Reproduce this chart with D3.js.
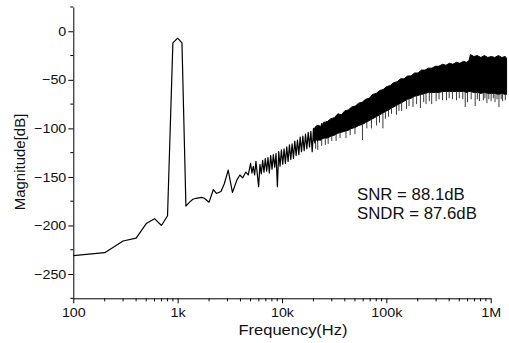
<!DOCTYPE html>
<html><head><meta charset="utf-8">
<script src="https://cdn.jsdelivr.net/npm/d3@7"></script>
<style>body{margin:0;background:#fff}svg{display:block}text{font-family:"Liberation Sans",Arial,sans-serif;fill:#111}</style>
</head><body>
<svg id="c" width="509" height="343"></svg>
<script>
// ---- data ----
const lineFreq = [100,200,300,400,500,600,700,800,900,1000,1100,1200,1300,1400,1500,1700,1800,2000,2200,2350,2600,2800,3050,3350,3700,3950,4200,4500,4750,
  5000,5150,5305,5464,5628,5796,5970,6149,6334,6524,6720,6921,7129,7343,7563,7790,8024,8264,8512,8768,9031,9301,9581,9868,10164,10469,10783,11106,11440,11783,12136,12500,12875,13262,13660,14069,14491,14926,15374,15835,16310,16800,17304,17823,18357,18908,19475,20060,20661,21281,21920,22577,23255,23952,24671,25411];
const lineMag  = [-231,-228,-216,-213,-198,-193,-200,-190,-12,-7,-12,-180,-176,-173,-172,-171,-172,-176,-163,-167,-165,-157,-143,-166,-153,-148,-151,-145,-148,
  -136,-146,-139,-148,-134,-147,-160,-137,-147,-133,-145,-131,-144,-130,-146,-128,-142,-127,-140,-126,-160,-124,-139,-122,-137,-121,-136,-119,-134,-117,-132,-116,-131,-113,-128,-112,-127,-109,-124,-108,-123,-106,-121,-104,-119,-103,-124,-100,-115,-98,-113,-97,-112,-95,-110,-93];

const bandFreq   = [20000,21600,23300,25200,27200,29400,31700,34300,37000,40000,43200,46600,50400,54400,58700,63400,68500,74000,79900,86300,93200,100700,108700,117400,126800,137000,147900,159700,172500,186300,201200,217300,234700,253500,273800,295700,319300,344900,372400,402200,434400,469200,506700,547200,591000,620000,640000,690000,745000,805000,869000,939000,1014000,1095000,1183000,1278000,1380000,1420000];
const bandTop    = [-101,-97,-98,-94,-93,-90,-89,-85,-86,-82,-81,-78,-77,-74,-73,-70,-69,-65,-64,-61,-60,-57,-56,-53,-52,-49,-49,-46,-46,-43,-43,-40,-40,-38,-38,-36,-36,-34,-35,-33,-34,-32,-33,-31,-32,-30,-24,-26,-25,-27,-25,-27,-26,-27,-25,-27,-26,-28];
const bandBottom = [-113,-112,-112,-110,-110,-108,-107,-105,-104,-103,-102,-100,-99,-97,-96,-94,-92,-90,-88,-86,-84,-82,-80,-78,-76,-74,-72,-70,-69,-67,-66,-65,-64,-63,-63,-63,-63,-62,-62,-62,-62,-62,-62,-62,-63,-62,-62,-63,-63,-64,-63,-64,-64,-64,-65,-64,-65,-65];

const spikeFreq = [21000,22000,24000,26000,27700,30000,33000,36000,41000,45000,50000,59000,65000,72000,80600,86000,92700,98000,105000,112000,125000,132000,140000,156000,165000,180000,195000,212000,228000,240000,258000,272000,300000,320000,345000,377000,400000,430000,470000,500000,540000,570000,600000,650000,710000,745000,780000,850000,880000,920000,960000,1010000,1060000,1100000,1150000,1200000,1260000,1300000,1380000];
const spikeMag  = [-121,-122,-118,-117,-116,-113,-113,-110,-110,-107,-106,-112,-100,-100,-97,-94,-100,-90,-88,-85,-86,-82,-82,-80,-77,-78,-75,-79,-73,-75,-72,-75,-72,-70,-71,-71,-69,-70,-71,-69,-70,-78,-73,-70,-77,-70,-72,-71,-69,-74,-70,-72,-69,-73,-70,-78,-70,-72,-71];

const yTickValues = [-250,-200,-150,-100,-50,0];
const yMinorValues = [-275,-225,-175,-125,-75,-25,25];
const xTickValues = [100,1000,10000,100000,1000000];
const xTickLabels = ["100","1k","10k","100k","1M"];
const xTitle = "Frequency(Hz)";
const yTitle = "Magnitude[dB]";
const notes = ["SNR = 88.1dB","SNDR = 87.6dB"];

// ---- drawing ----
const svg = d3.select("#c");
const x = d3.scaleLog().domain([100,1e6]).range([73.3,490.7]);
const y = d3.scaleLinear().domain([-275,25]).range([298.3,7]);
const bottomAt = d3.scaleLog().domain(bandFreq).range(bandBottom);

// band
const area = d3.area().x((d,i)=>x(bandFreq[i])).y0((d,i)=>y(bandBottom[i])).y1((d,i)=>y(bandTop[i]));
svg.append("path").datum(bandFreq).attr("d",area).attr("fill","#000").attr("stroke","#000").attr("stroke-width",1);

// spikes
svg.append("g").selectAll("line").data(spikeFreq).join("line")
  .attr("x1",d=>x(d)).attr("x2",d=>x(d))
  .attr("y1",(d,i)=>y(spikeMag[i])).attr("y2",d=>y(bottomAt(d)))
  .attr("stroke","#3a3a3a").attr("stroke-width",1);

// line
const line = d3.line().x((d,i)=>x(lineFreq[i])).y((d,i)=>y(lineMag[i]));
svg.append("path").datum(lineFreq).attr("d",line).attr("fill","none").attr("stroke","#000").attr("stroke-width",1.2).attr("stroke-linejoin","round");

// axes
const gx = svg.append("g").attr("transform","translate(0,298.3)");
gx.call(d3.axisBottom(x).tickValues(xTickValues).tickFormat((d,i)=>xTickLabels[i]).tickSize(5).tickSizeOuter(0));
const minorX = [];
[100,1000,10000,100000].forEach(dec=>{for(let k=2;k<=9;k++) minorX.push(dec*k);});
gx.append("g").selectAll("line").data(minorX).join("line")
  .attr("x1",d=>x(d)).attr("x2",d=>x(d)).attr("y1",0).attr("y2",3).attr("stroke","#000");
gx.selectAll(".tick text").attr("font-size","13px").attr("dy","0.85em")
  .attr("transform","scale(1.1,1)");

const gy = svg.append("g").attr("transform","translate(73.3,0)");
gy.call(d3.axisLeft(y).tickValues(yTickValues).tickSize(5).tickSizeOuter(0));
gy.append("g").selectAll("line").data(yMinorValues).join("line")
  .attr("x1",0).attr("x2",-3).attr("y1",d=>y(d)).attr("y2",d=>y(d)).attr("stroke","#000");
gy.selectAll(".tick text").attr("font-size","13px").attr("x",-7/1.1).attr("transform","scale(1.1,1)");

svg.selectAll(".domain").attr("stroke","#000");
svg.selectAll(".tick line").attr("stroke","#000");
svg.selectAll(".tick text").attr("fill","#111").attr("font-family","Liberation Sans, Arial, sans-serif");

// titles
svg.append("text").attr("transform","translate(293,335) scale(1.1,1)").attr("text-anchor","middle")
  .attr("font-size","15px").text(xTitle);
svg.append("text").attr("transform","translate(25,162) rotate(-90)").attr("text-anchor","middle")
  .attr("font-size","15px").text(yTitle);

// annotation
svg.append("g").selectAll("text").data(notes).join("text")
  .attr("transform",(d,i)=>`translate(357,${200+i*18.5}) scale(1.05,1)`)
  .attr("font-size","16px").text(d=>d);
</script>
</body></html>
